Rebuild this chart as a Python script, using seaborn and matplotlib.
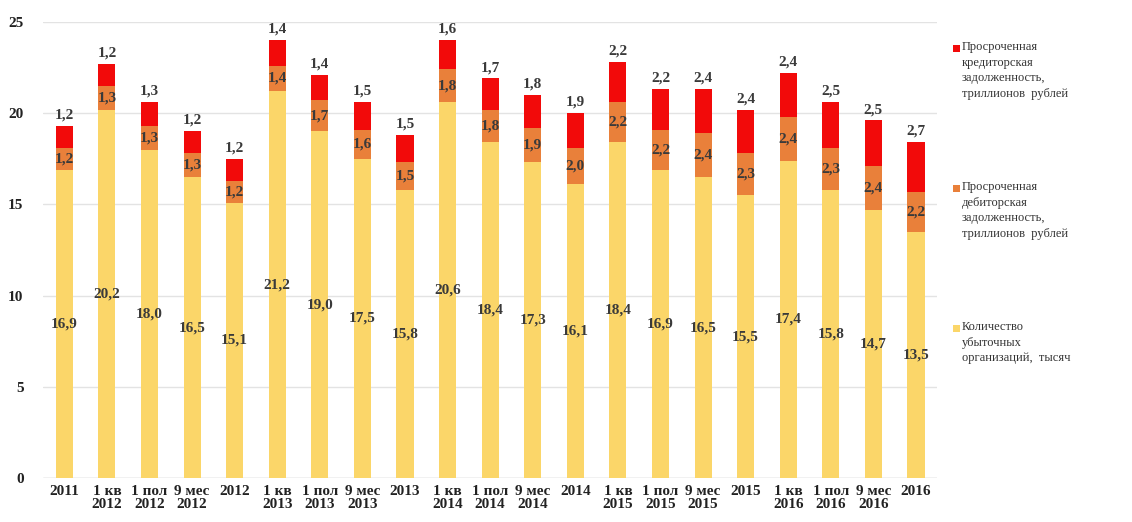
import seaborn as sns
import matplotlib.pyplot as plt
import pandas as pd
from matplotlib.patches import Rectangle

periods = ["2011", "1 кв\n2012", "1 пол\n2012", "9 мес\n2012", "2012",
           "1 кв\n2013", "1 пол\n2013", "9 мес\n2013", "2013",
           "1 кв\n2014", "1 пол\n2014", "9 мес\n2014", "2014",
           "1 кв\n2015", "1 пол\n2015", "9 мес\n2015", "2015",
           "1 кв\n2016", "1 пол\n2016", "9 мес\n2016", "2016"]
loss_orgs = [16.9, 20.2, 18.0, 16.5, 15.1, 21.2, 19.0, 17.5, 15.8, 20.6, 18.4,
             17.3, 16.1, 18.4, 16.9, 16.5, 15.5, 17.4, 15.8, 14.7, 13.5]
receivables = [1.2, 1.3, 1.3, 1.3, 1.2, 1.4, 1.7, 1.6, 1.5, 1.8, 1.8,
               1.9, 2.0, 2.2, 2.2, 2.4, 2.3, 2.4, 2.3, 2.4, 2.2]
payables = [1.2, 1.2, 1.3, 1.2, 1.2, 1.4, 1.4, 1.5, 1.5, 1.6, 1.7,
            1.8, 1.9, 2.2, 2.2, 2.4, 2.4, 2.4, 2.5, 2.5, 2.7]
legend_labels = ["Просроченная\nкредиторская\nзадолженность,\nтриллионов  рублей",
                 "Просроченная\nдебиторская\nзадолженность,\nтриллионов  рублей",
                 "Количество\nубыточных\nорганизаций,  тысяч"]

df = pd.DataFrame({"period": periods, "orgs": loss_orgs,
                   "recv": receivables, "pay": payables})
df["mid"] = df["orgs"] + df["recv"]
df["total"] = df["mid"] + df["pay"]

c_yellow = "#FBD669"
c_orange = "#E9803A"
c_red = "#F20A0A"

sns.set_style("white")
plt.rcParams["font.family"] = ["Liberation Serif", "DejaVu Serif"]

fig = plt.figure(figsize=(11.32, 5.22), dpi=100)
ax = fig.add_axes([0.038, 0.084, 0.79, 0.874])

for col, c in [("total", c_red), ("mid", c_orange), ("orgs", c_yellow)]:
    sns.barplot(data=df, x="period", y=col, color=c, width=0.4,
                saturation=1, linewidth=0, ax=ax)

lab = dict(ha="center", va="center", fontsize=11, fontweight="bold",
           color="#3a3a3a")
for i, r in df.iterrows():
    ax.text(i, r["orgs"] / 2, f"{r['orgs']:.1f}".replace(".", ","), **lab)
    ax.text(i, r["orgs"] + r["recv"] / 2, f"{r['recv']:.1f}".replace(".", ","), **lab)
    ax.text(i, r["total"] + 0.6, f"{r['pay']:.1f}".replace(".", ","), **lab)

ax.set_ylim(0, 25)
ax.set_xlim(-0.5, len(periods) - 0.5)
ax.set_yticks([0, 5, 10, 15, 20, 25])
ax.grid(axis="y", color="#e3e3e3", linewidth=1)
ax.set_axisbelow(True)
for s in ax.spines.values():
    s.set_visible(False)
ax.axhline(0, color="#d0d0d0", linewidth=1, zorder=0)
ax.set_xlabel("")
ax.set_ylabel("")
ax.tick_params(axis="both", length=0, labelsize=11)
ax.tick_params(axis="y", pad=14)
ax.tick_params(axis="x", pad=5)
for t in ax.get_xticklabels() + ax.get_yticklabels():
    t.set_fontweight("bold")
    t.set_color("#222222")
for t in ax.get_xticklabels():
    t.set_linespacing(0.95)

# legend: colored square at the first line of each multi-line label
W, H = 1132, 522
for k, (txt, c) in enumerate(zip(legend_labels, [c_red, c_orange, c_yellow])):
    y_top = 41 + k * 140
    fig.text(962 / W, 1 - y_top / H, txt, ha="left", va="top", fontsize=9,
             color="#333333", linespacing=1.4)
    fig.add_artist(Rectangle((953 / W, 1 - (y_top + 11) / H), 7 / W, 7 / H,
                             transform=fig.transFigure, color=c, lw=0))

fig.savefig("out.png", dpi=100)
